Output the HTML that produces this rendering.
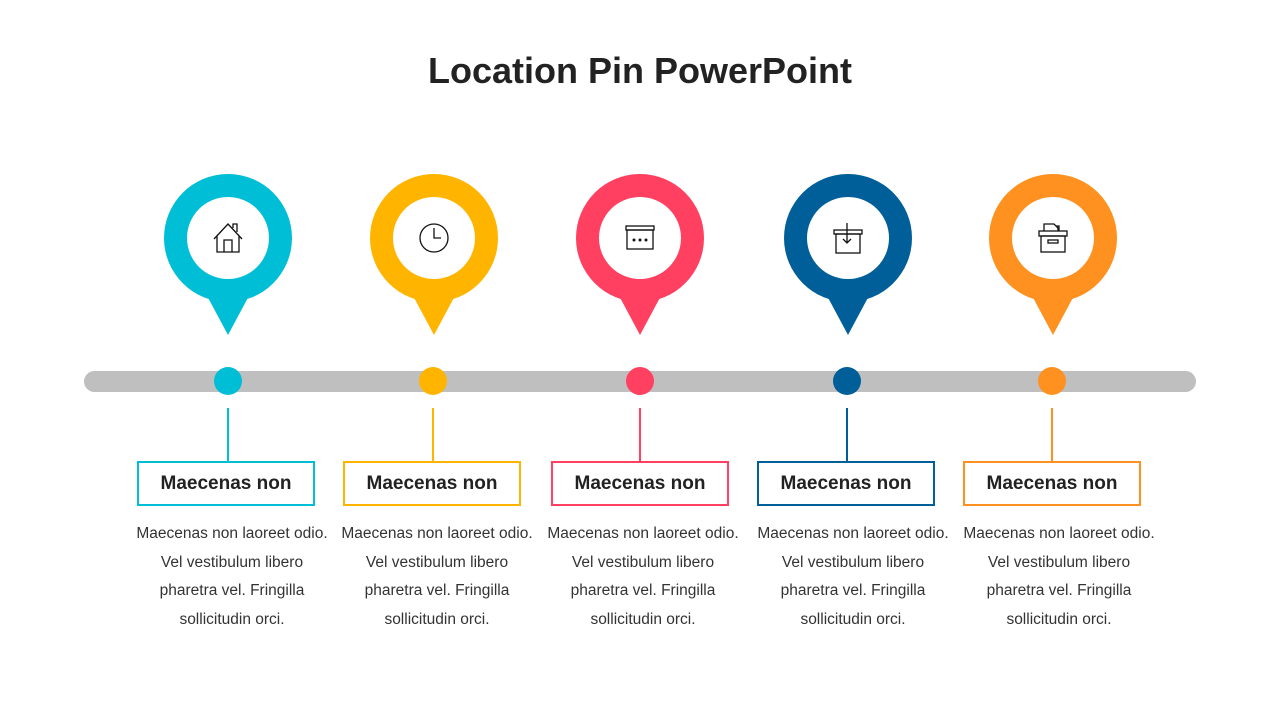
<!DOCTYPE html>
<html><head><meta charset="utf-8"><style>
body{margin:0;width:1280px;height:720px;background:#fff;font-family:"Liberation Sans",sans-serif;position:relative;overflow:hidden}
.t{position:absolute;top:50px;left:0;width:1280px;text-align:center;font-size:36px;font-weight:bold;color:#222}
.box{position:absolute;top:461px;width:174px;height:41px;border:2px solid;text-align:center;line-height:41px;font-size:19px;font-weight:bold;color:#222}
.p{position:absolute;top:520px;width:240px;text-align:center;font-size:15.5px;line-height:28.6px;color:#333;white-space:nowrap}
</style></head><body>
<div class="t">Location Pin PowerPoint</div>
<svg width="1280" height="720" style="position:absolute;left:0;top:0">
<rect x="84" y="371" width="1112" height="21" rx="10.5" fill="#bfbfbf"/>
<g fill="#00bed6"><circle cx="228" cy="238" r="64"/><path d="M205 292 L228 335 L251 292Z"/><circle cx="228" cy="381" r="14"/><rect x="227" y="408" width="2" height="54"/></g>
<g fill="#ffb400"><circle cx="434" cy="238" r="64"/><path d="M411 292 L434 335 L457 292Z"/><circle cx="433" cy="381" r="14"/><rect x="432" y="408" width="2" height="54"/></g>
<g fill="#ff4060"><circle cx="640" cy="238" r="64"/><path d="M617 292 L640 335 L663 292Z"/><circle cx="640" cy="381" r="14"/><rect x="639" y="408" width="2" height="54"/></g>
<g fill="#005f99"><circle cx="848" cy="238" r="64"/><path d="M825 292 L848 335 L871 292Z"/><circle cx="847" cy="381" r="14"/><rect x="846" y="408" width="2" height="54"/></g>
<g fill="#ff9120"><circle cx="1053" cy="238" r="64"/><path d="M1030 292 L1053 335 L1076 292Z"/><circle cx="1052" cy="381" r="14"/><rect x="1051" y="408" width="2" height="54"/></g>
<g fill="#fff"><circle cx="228" cy="238" r="41"/><circle cx="434" cy="238" r="41"/><circle cx="640" cy="238" r="41"/><circle cx="848" cy="238" r="41"/><circle cx="1053" cy="238" r="41"/></g>
<g fill="none" stroke="#111" stroke-width="1.3">
<path d="M214 239 L228 224 L242 239 M217 236 V252 H239 V236 M224 252 V240 H232 V252 M233 228 V224 H237 V232"/>
<circle cx="434" cy="238" r="14"/><path d="M434 228 V238 H441"/>
<rect x="626" y="226" width="28" height="4"/><rect x="627" y="230" width="26" height="19"/>
<rect x="834" y="230" width="28" height="4"/><rect x="836" y="234" width="24" height="19"/><path d="M847 223 V243 M843 239 L847 243 L851 239"/>
<rect x="1039" y="231" width="28" height="5"/><rect x="1041" y="236" width="24" height="16"/><rect x="1048" y="240" width="10" height="3"/><path d="M1044 231 V224 H1054 L1058 228 V231 M1056 226 H1059 V231"/>
</g>
<g fill="#111"><circle cx="634" cy="240" r="1.5"/><circle cx="640" cy="240" r="1.5"/><circle cx="646" cy="240" r="1.5"/></g>
</svg>
<div class="box" style="left:137px;border-color:#00bed6">Maecenas non</div>
<div class="box" style="left:343px;border-color:#ffb400">Maecenas non</div>
<div class="box" style="left:551px;border-color:#ff4060">Maecenas non</div>
<div class="box" style="left:757px;border-color:#005f99">Maecenas non</div>
<div class="box" style="left:963px;border-color:#ff9120">Maecenas non</div>
<div class="p" style="left:112px">Maecenas non laoreet odio.<br>Vel vestibulum libero<br>pharetra vel. Fringilla<br>sollicitudin orci.</div>
<div class="p" style="left:317px">Maecenas non laoreet odio.<br>Vel vestibulum libero<br>pharetra vel. Fringilla<br>sollicitudin orci.</div>
<div class="p" style="left:523px">Maecenas non laoreet odio.<br>Vel vestibulum libero<br>pharetra vel. Fringilla<br>sollicitudin orci.</div>
<div class="p" style="left:733px">Maecenas non laoreet odio.<br>Vel vestibulum libero<br>pharetra vel. Fringilla<br>sollicitudin orci.</div>
<div class="p" style="left:939px">Maecenas non laoreet odio.<br>Vel vestibulum libero<br>pharetra vel. Fringilla<br>sollicitudin orci.</div>
</body></html>
